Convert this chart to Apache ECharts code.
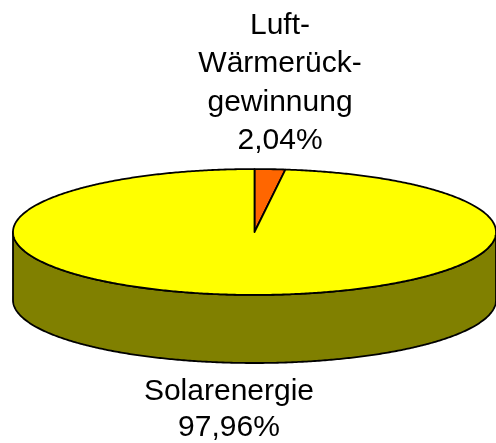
<!DOCTYPE html>
<html>
<head>
<meta charset="utf-8">
<script src="https://cdn.jsdelivr.net/npm/echarts@6/dist/echarts.min.js"></script>
<style>html,body{margin:0;padding:0;background:#fff}#c{width:496px;height:443px}</style>
</head>
<body>
<div id="c"></div>
<script>
const categories = ['Luft-\nWärmerück-\ngewinnung', 'Solarenergie'];
const values = [2.04, 97.96];
const topColors = ['#FF6600', '#FFFF00'];
const sideColors = ['#993300', '#808000'];

const TILT = 0.258;   // vertical squash of the pie top
const DEPTH = 0.279;  // thickness of the pie (in radius units)
const LABEL_K = 1.65;

const total = values.reduce((a, b) => a + b, 0);
const cum = [0];
values.forEach((v, i) => cum.push(cum[i] + v));

function fmtPct(v) {
  return (v / total * 100).toFixed(2).replace('.', ',') + '%';
}

const chart = echarts.init(document.getElementById('c'));
chart.setOption({
  animation: false,
  grid: { left: 13, width: 488, top: 0, height: 443 },
  xAxis: { type: 'value', min: -1, max: 1, show: false },
  yAxis: { type: 'value', min: -0.8648, max: 0.9508, show: false },
  series: [{
    type: 'custom',
    coordinateSystem: 'cartesian2d',
    data: values.map((v, i) => ({ name: categories[i], value: [i, v] })),
    renderItem: function (params, api) {
      const i = params.dataIndex;
      const start = cum[i] / total * 360;
      const end = cum[i + 1] / total * 360;
      const pt = (deg, drop) => {
        const r = deg * Math.PI / 180;
        return api.coord([Math.sin(r), TILT * Math.cos(r) - drop]);
      };
      const arc = (a, b, drop) => {
        const pts = [];
        const n = Math.max(2, Math.ceil(Math.abs(b - a) / 0.5));
        for (let k = 0; k <= n; k++) pts.push(pt(a + (b - a) * k / n, drop));
        return pts;
      };
      const children = [];
      // side (front half only)
      const a = Math.max(start, 90), b = Math.min(end, 270);
      if (a < b) {
        const pts = arc(a, b, 0).concat(arc(b, a, DEPTH));
        children.push({
          type: 'polygon', z2: 1,
          shape: { points: pts },
          style: { fill: sideColors[i], stroke: '#000', lineWidth: 1.8, lineJoin: 'round' }
        });
      }
      // top face
      const c = api.coord([0, 0]);
      children.push({
        type: 'polygon', z2: 10,
        shape: { points: [c].concat(arc(start, end, 0)) },
        style: { fill: topColors[i], stroke: '#000', lineWidth: 1.8, lineJoin: 'round' }
      });
      // label
      const mid = (start + end) / 2;
      const mr = mid * Math.PI / 180;
      const back = Math.cos(mr) > 0;
      const lp = back ? pt(mid, 0) : pt(mid, DEPTH);
      const lx = api.coord([LABEL_K * Math.sin(mr), 0])[0];
      children.push({
        type: 'text', z2: 20,
        style: {
          text: categories[i] + '\n' + fmtPct(api.value(1)),
          x: lx,
          y: back ? lp[1] - 9 : lp[1] + 10.5,
          align: 'center',
          verticalAlign: back ? 'bottom' : 'top',
          font: '30px "Liberation Sans", Arial, sans-serif',
          lineHeight: back ? 38.5 : 36,
          fill: '#000'
        }
      });
      return { type: 'group', children: children };
    }
  }]
});
</script>
</body>
</html>
